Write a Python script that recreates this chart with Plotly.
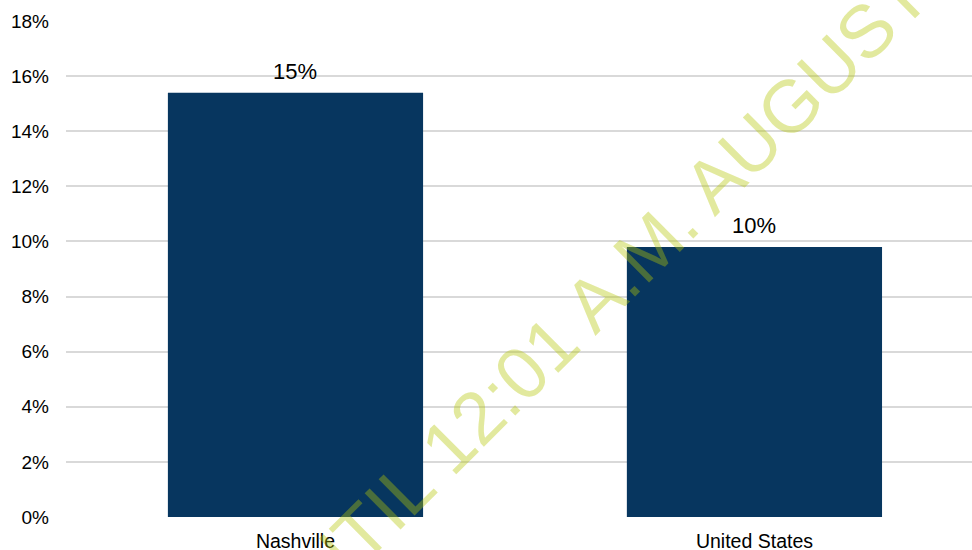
import plotly.graph_objects as go

categories = ["Nashville", "United States"]
values = [15.4, 9.8]
value_labels = ["15%", "10%"]
y_ticks = [0, 2, 4, 6, 8, 10, 12, 14, 16, 18]
y_tick_labels = [f"{v}%" for v in y_ticks]
watermark_text = "UNTIL 12:01 A.M. AUGUST"

FONT = "Liberation Sans, Arial, sans-serif"

fig = go.Figure()
fig.add_trace(go.Bar(
    x=categories, y=values,
    marker=dict(color="#07365F", line=dict(width=0)),
    width=0.556,
    hoverinfo="skip",
))

for c, v, t in zip(categories, values, value_labels):
    fig.add_annotation(x=c, y=v, xref="x", yref="y", text=t, showarrow=False,
                       yanchor="bottom", yshift=7,
                       font=dict(family=FONT, size=22, color="#000000"))

fig.add_annotation(x=0.5817, y=0.4315, xref="paper", yref="paper",
                   text=watermark_text, showarrow=False, textangle=-44.8,
                   font=dict(family=FONT, size=74, color="rgba(180,198,4,0.39)"))

fig.update_layout(
    width=972, height=550,
    margin=dict(l=66, r=0, t=21, b=33),
    paper_bgcolor="white", plot_bgcolor="white",
    showlegend=False,
    font=dict(family=FONT, size=18.5, color="#000000"),
    xaxis=dict(range=[-0.5, 1.474], showgrid=False, zeroline=False,
               showline=False, ticks="", tickfont=dict(size=19.5),
               ticklabelstandoff=10, automargin=False),
    yaxis=dict(range=[0, 18], tickvals=y_ticks, ticktext=y_tick_labels,
               showgrid=True, gridcolor="#D9D9D9", gridwidth=1.5,
               zeroline=False, showline=False, ticks="",
               ticklabelstandoff=16, tickfont=dict(size=19), automargin=False),
)

fig.write_html("out.html")
